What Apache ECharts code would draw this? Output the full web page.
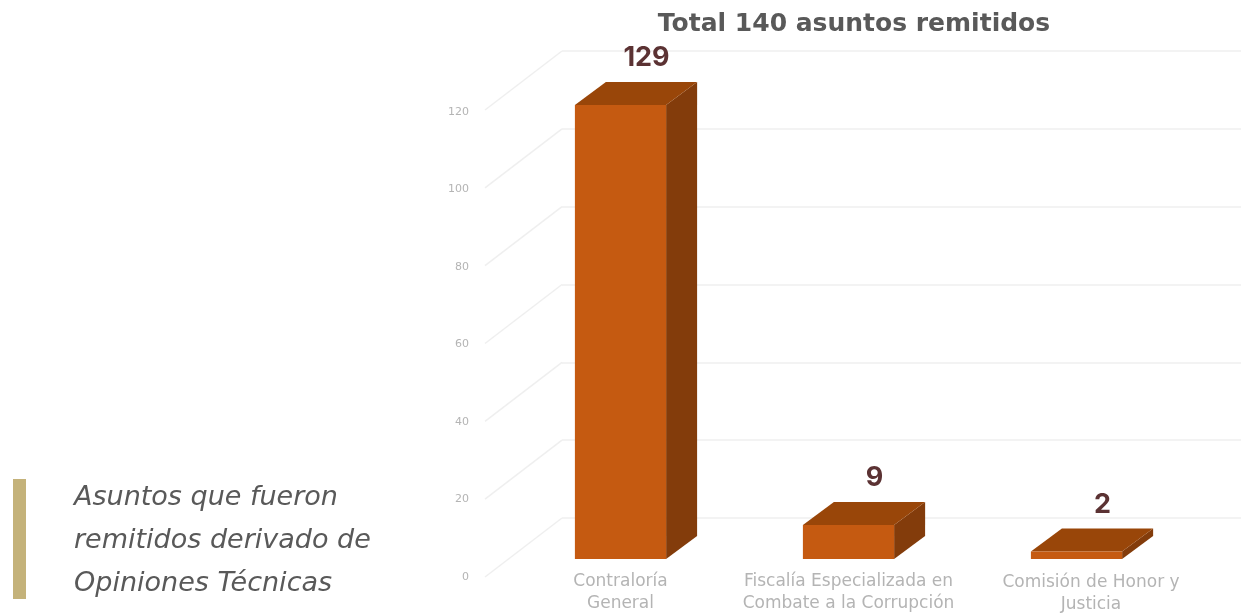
<!DOCTYPE html>
<html>
<head>
<meta charset="utf-8">
<style>html,body{margin:0;padding:0;background:#fff}#c{width:1241px;height:616px}</style>
<script src="https://cdn.jsdelivr.net/npm/echarts@6/dist/echarts.min.js"></script>
</head>
<body>
<div id="c"></div>
<script>
const categories = ['Contraloría\nGeneral', 'Fiscalía Especializada en\nCombate a la Corrupción', 'Comisión de Honor y\nJusticia'];
const values = [129, 9, 2];
const tickValues = [0, 20, 40, 60, 80, 100, 120];
const titleText = 'Total 140 asuntos remitidos';
const noteLines = ['Asuntos que fueron', 'remitidos derivado de', 'Opiniones Técnicas'];
const axisMax = 120;

const DEPTH_X = 31, DEPTH_Y = 23;
const chart = echarts.init(document.getElementById('c'), null, {renderer: 'canvas'});

function renderBar(params, api) {
  const idx = api.value(0);
  const v = api.value(1);
  const base = api.coord([idx, 0]);
  const top = api.coord([idx, Math.min(v, axisMax)]);
  const w = api.size([1, 0])[0] * 0.4;
  const l = base[0] - w / 2, r = base[0] + w / 2, b = base[1], t = top[1];
  const dx = DEPTH_X, dy = DEPTH_Y;
  const poly = (pts, fill) => ({type: 'polygon', shape: {points: pts}, style: {fill: fill}});
  return {
    type: 'group',
    children: [
      poly([[r, t], [r + dx, t - dy], [r + dx, b - dy], [r, b]], '#833C0B'),
      poly([[l, t], [l + dx, t - dy], [r + dx, t - dy], [r, t]], '#994609'),
      poly([[l, t], [r, t], [r, b], [l, b]], '#C55A11'),
      {type: 'text', x: base[0] + 26, y: t - dy - 24, style: {
        text: String(v), fill: '#5B3233', font: 'bold 27px Inter, sans-serif',
        textAlign: 'center', textVerticalAlign: 'middle'
      }}
    ]
  };
}

function renderDiagonal(params, api) {
  const p = api.coord([0, api.value(0)]);
  return {type: 'line', shape: {x1: p[0], y1: p[1], x2: p[0] - 77, y2: p[1] + 59},
    style: {stroke: '#EFEFEF', lineWidth: 1.5}};
}

const catStyle = {fontFamily: '"DejaVu Sans", sans-serif', fontSize: 17, color: '#B4B4B4', lineHeight: 22};

chart.setOption({
  animation: false,
  backgroundColor: '#ffffff',
  title: {
    text: titleText, left: 849, top: 7, textAlign: 'center',
    textStyle: {fontFamily: '"DejaVu Sans", sans-serif', fontWeight: 'bold', fontSize: 25, color: '#595959'}
  },
  grid: [
    {left: 506.5, width: 684, top: 105, height: 454},
    {left: 562, right: 0, top: 51, height: 467},
    {left: 485, width: 10, top: 112, height: 465}
  ],
  xAxis: [
    {type: 'category', gridIndex: 0, data: categories,
      axisLine: {show: false}, axisTick: {show: false}, splitLine: {show: false},
      axisLabel: {
        margin: 12, interval: 0,
        formatter: (val, i) => val.split('\n').map(s => (i === 2 ? '{s|' : '{n|') + s + '}').join('\n'),
        rich: {
          n: Object.assign({}, catStyle),
          s: Object.assign({}, catStyle, {padding: [2, 0, 0, 29]})
        }
      }},
    {type: 'value', gridIndex: 1, min: 0, max: 1, show: false},
    {type: 'value', gridIndex: 2, min: 0, max: 1, show: false}
  ],
  yAxis: [
    {type: 'value', gridIndex: 0, min: 0, max: axisMax, show: false},
    {type: 'value', gridIndex: 1, min: 0, max: axisMax, interval: 20,
      axisLine: {show: false}, axisTick: {show: false}, axisLabel: {show: false},
      splitLine: {show: true, lineStyle: {color: '#EFEFEF', width: 1.5}}},
    {type: 'value', gridIndex: 2, min: 0, max: axisMax, interval: 20,
      axisLine: {show: false}, axisTick: {show: false}, splitLine: {show: false},
      axisLabel: {margin: 16, fontFamily: '"DejaVu Sans", sans-serif', fontSize: 11, color: '#B4B4B4'}}
  ],
  series: [
    {type: 'custom', xAxisIndex: 1, yAxisIndex: 1, z: 1, silent: true, clip: false,
      renderItem: renderDiagonal, data: tickValues.map(v => [v]), encode: {y: 0}},
    {type: 'custom', xAxisIndex: 0, yAxisIndex: 0, z: 5, silent: true, clip: false,
      renderItem: renderBar, data: values.map((v, i) => [i, v]), encode: {x: 0, y: 1}}
  ],
  graphic: [
    {type: 'rect', shape: {x: 13, y: 479, width: 13, height: 120}, style: {fill: '#C4B27A'}},
    ...noteLines.map((s, i) => ({
      type: 'text', x: 74, y: 498 + i * 43,
      style: {text: s, fill: '#595959', font: 'italic 27px "DejaVu Sans", sans-serif',
        textAlign: 'left', textVerticalAlign: 'middle'}
    }))
  ]
});
</script>
</body>
</html>
